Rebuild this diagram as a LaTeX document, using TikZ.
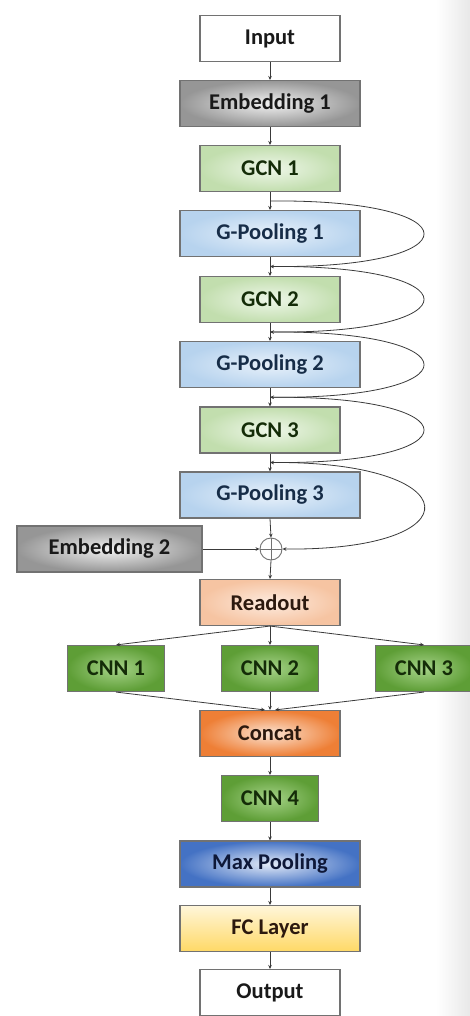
\documentclass[tikz,border=0pt]{standalone}
\usepackage{fontspec}
\setmainfont{Carlito}
\usetikzlibrary{arrows.meta,calc}

\definecolor{edge}{HTML}{727272}
\definecolor{wire}{HTML}{3A3A3A}
\definecolor{embOut}{HTML}{969696}
\definecolor{embIn}{HTML}{F2F2F2}
\definecolor{gcnOut}{HTML}{C2DEAE}
\definecolor{gcnIn}{HTML}{EFF7EA}
\definecolor{gpOut}{HTML}{B7D3EE}
\definecolor{gpIn}{HTML}{E8F1FA}
\definecolor{rdOut}{HTML}{F6C4A2}
\definecolor{rdIn}{HTML}{FDEBDF}
\definecolor{cnnOut}{HTML}{5E9E36}
\definecolor{cnnIn}{HTML}{A6D389}
\definecolor{catOut}{HTML}{EE7F36}
\definecolor{catIn}{HTML}{FBE3D2}
\definecolor{mpOut}{HTML}{4472C4}
\definecolor{mpIn}{HTML}{E2EAF7}
\definecolor{fcTop}{HTML}{FFF6DA}
\definecolor{fcBot}{HTML}{FFD966}
\definecolor{txtGreen}{HTML}{142C08}
\definecolor{txtBlue}{HTML}{172D48}
\definecolor{txtBrown}{HTML}{2C190E}
\definecolor{txtNavy}{HTML}{0E1838}

\tikzset{
  blk/.style={draw=edge, line width=1.1pt, minimum height=46pt, inner sep=0pt,
              font=\fontsize{22.5}{24}\selectfont\bfseries, text=black!90},
  narrow/.style={blk, minimum width=140pt},
  wide/.style={blk, minimum width=180pt},
  small/.style={blk, minimum width=97pt},
  plain/.style={fill=white},
  emb/.style={inner color=embIn, outer color=embOut, text=black!90},
  gcn/.style={inner color=gcnIn, outer color=gcnOut, text=txtGreen},
  gpool/.style={inner color=gpIn, outer color=gpOut, text=txtBlue},
  rd/.style={inner color=rdIn, outer color=rdOut, text=txtBrown},
  cnn/.style={inner color=cnnIn, outer color=cnnOut, text=txtGreen},
  cat/.style={inner color=catIn, outer color=catOut, text=txtBrown},
  mp/.style={inner color=mpIn, outer color=mpOut, text=txtNavy},
  fc/.style={top color=fcTop, bottom color=fcBot, text=txtBrown},
  arr/.style={draw=wire, line width=0.8pt, -{Stealth[length=4pt,width=3.6pt]}},
  loopline/.style={arr},
  adder/.style={circle, draw=edge, line width=0.9pt, minimum size=22pt, inner sep=0pt, fill=white,
     path picture={\draw[edge, line width=0.9pt]
        (path picture bounding box.north) -- (path picture bounding box.south)
        (path picture bounding box.west) -- (path picture bounding box.east);}}
}

\begin{document}
\begin{tikzpicture}[x=1pt, y=-1pt]
  \useasboundingbox (0,0) rectangle (470,1016);
  % soft grey band along the right margin
  \fill[left color=white, right color=black!9] (436,0) rectangle (470,1016);

  % main column
  \node[narrow, plain] (in)   at (270,38.5)  {Input};
  \node[wide, emb]     (emb1) at (270,103.5) {Embedding 1};
  \node[narrow, gcn]   (gcn1) at (270,168.5) {GCN 1};
  \node[wide, gpool]   (gp1)  at (270,233.5) {G-Pooling 1};
  \node[narrow, gcn]   (gcn2) at (270,299.5) {GCN 2};
  \node[wide, gpool]   (gp2)  at (270,364.5) {G-Pooling 2};
  \node[narrow, gcn]   (gcn3) at (270,430)   {GCN 3};
  \node[wide, gpool]   (gp3)  at (270,495)   {G-Pooling 3};
  \node[adder]         (add)  at (271,549)   {};
  \node[blk, minimum width=185pt, emb] (emb2) at (109.5,549) {Embedding 2};
  \node[narrow, rd]    (rd)   at (270,602.5) {Readout};
  \node[small, cnn]    (c1)   at (116,668.5) {CNN 1};
  \node[small, cnn]    (c2)   at (270,668.5) {CNN 2};
  \node[small, cnn]    (c3)   at (424,668.5) {CNN 3};
  \node[narrow, cat]   (cat)  at (270,733.5) {Concat};
  \node[small, cnn]    (c4)   at (270,798.5) {CNN 4};
  \node[wide, mp]      (mp)   at (270,864)   {Max Pooling};
  \node[wide, fc]      (fc)   at (270,928.5) {FC Layer};
  \node[narrow, plain] (out)  at (270,992.5) {Output};

  % straight connections
  \draw[arr] (in) -- (emb1);
  \draw[arr] (emb1) -- (gcn1);
  \draw[arr] (gcn1) -- (gp1);
  \draw[arr] (gp1) -- (gcn2);
  \draw[arr] (gcn2) -- (gp2);
  \draw[arr] (gp2) -- (gcn3);
  \draw[arr] (gcn3) -- (gp3);
  \draw[arr] (gp3.south) -- (add.north);
  \draw[arr] (emb2) -- (add.west);
  \draw[arr] (add.south) -- (rd.north);
  \draw[arr] (rd.south) -- (c1.north);
  \draw[arr] (rd.south) -- (c2.north);
  \draw[arr] (rd.south) -- (c3.north);
  \draw[arr] (c1.south) -- ($(cat.north)+(-5,0)$);
  \draw[arr] (c2.south) -- (cat.north);
  \draw[arr] (c3.south) -- ($(cat.north)+(5,0)$);
  \draw[arr] (cat) -- (c4);
  \draw[arr] (c4) -- (mp);
  \draw[arr] (mp) -- (fc);
  \draw[arr] (fc) -- (out);

  % taps in the gaps between the stacked blocks
  \coordinate (t1) at ($(gcn1.south)!0.5!(gp1.north)$);
  \coordinate (t2) at ($(gp1.south)!0.5!(gcn2.north)$);
  \coordinate (t3) at ($(gcn2.south)!0.5!(gp2.north)$);
  \coordinate (t4) at ($(gp2.south)!0.5!(gcn3.north)$);
  \coordinate (t5) at ($(gcn3.south)!0.5!(gp3.north)$);

  % skip connections looping round the right side
  \draw[loopline] (t1) .. controls +(205,-2) and +(205,2) .. (t2);
  \draw[loopline] (t2) .. controls +(205,-2) and +(205,2) .. (t3);
  \draw[loopline] (t3) .. controls +(205,-2) and +(205,2) .. (t4);
  \draw[loopline] (t4) .. controls +(205,-2) and +(205,2) .. (t5);
  \draw[loopline] (t5) .. controls +(200,-2) and +(195,2) .. (add.east);
\end{tikzpicture}
\end{document}
